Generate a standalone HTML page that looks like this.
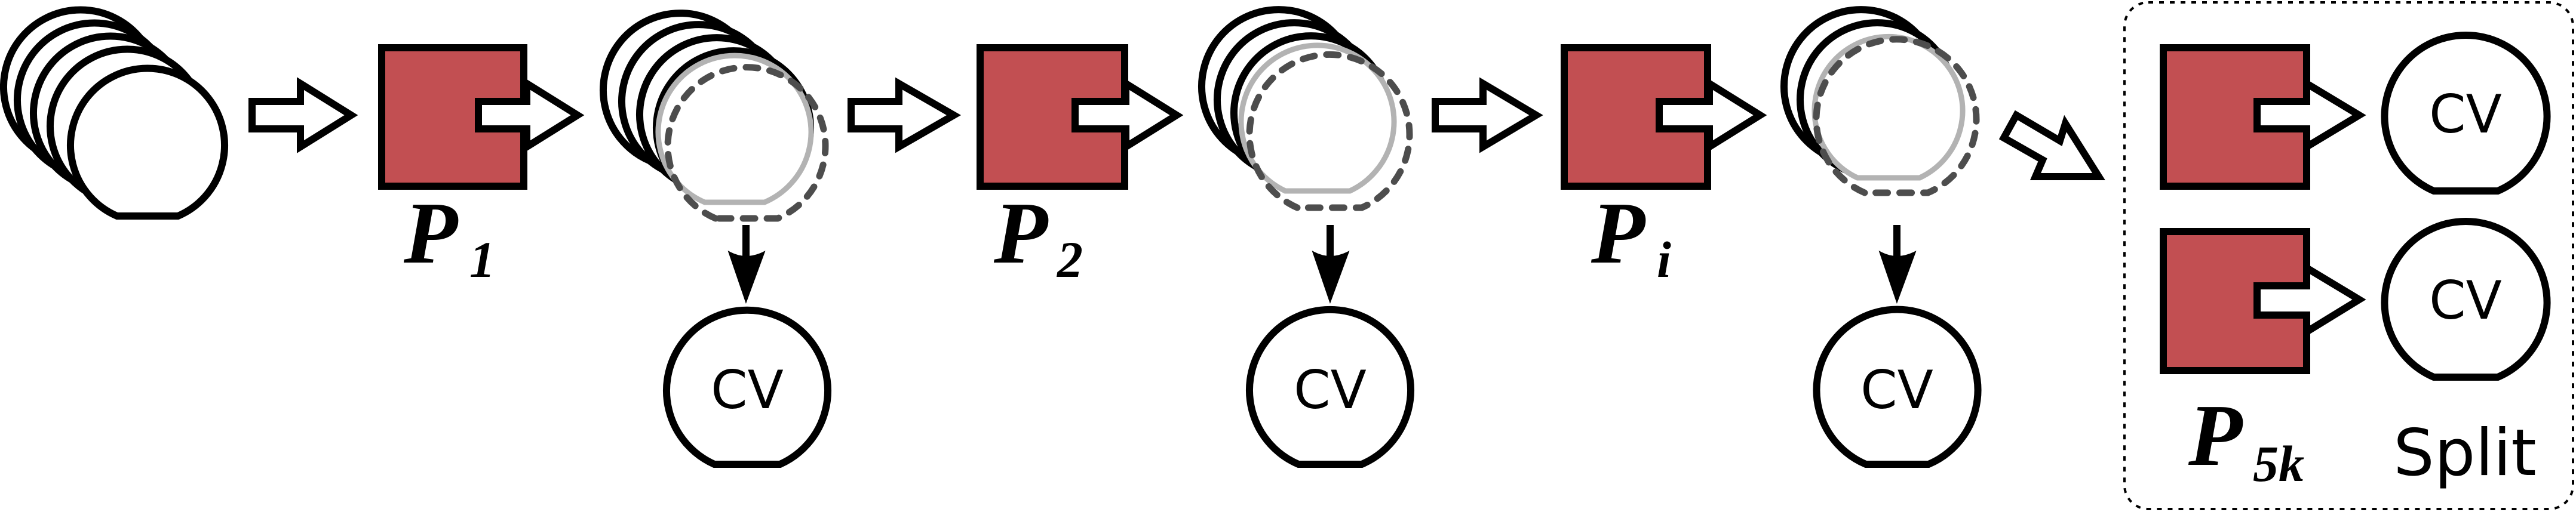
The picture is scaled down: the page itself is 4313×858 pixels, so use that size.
<!DOCTYPE html>
<html><head><meta charset="utf-8"><style>
html,body{margin:0;padding:0;background:#fff;}
svg{display:block;}
.k{fill:#fff;stroke:#000;stroke-width:12;stroke-linejoin:miter;}
.g{fill:#fff;stroke:#b3b3b3;stroke-width:9;}
.d{fill:none;stroke:#4d4d4d;stroke-width:11;stroke-dasharray:20 20;stroke-linecap:round;}
.box{fill:#c24f52;stroke:#000;stroke-width:12;}
.cv{font-family:"DejaVu Sans","Liberation Sans",sans-serif;font-size:88px;text-anchor:middle;}
.P{font-family:"Liberation Serif",serif;font-style:italic;font-weight:bold;font-size:148px;}
.s{font-family:"Liberation Serif",serif;font-style:italic;font-weight:bold;font-size:86px;}
</style></head><body>
<svg width="4313" height="858" viewBox="0 0 4313 858" xmlns="http://www.w3.org/2000/svg">
<g>
<path class="k" d="M84,264 A129,129 0 1 1 186,264 Z"/>
<path class="k" d="M107,286 A129,129 0 1 1 209,286 Z"/>
<path class="k" d="M134,308 A129,129 0 1 1 236,308 Z"/>
<path class="k" d="M162,330 A129,129 0 1 1 264,330 Z"/>
<path class="k" d="M196,362 A129,129 0 1 1 298,362 Z"/>
</g>
<polygon class="k" points="422,170 503,170 503,140 588,193 503,246 503,216 422,216"/>
<rect class="box" x="639" y="80" width="238" height="232"/>
<polygon class="k" points="801,170 882,170 882,140 967,193 882,246 882,216 801,216"/>
<text class="P" x="676" y="440">P</text><text class="s" x="786" y="464">1</text>

<path class="k" d="M1089,270 A129,129 0 1 1 1189,270 Z"/>
<path class="k" d="M1120,289 A129,129 0 1 1 1220,289 Z"/>
<path class="k" d="M1150,311 A129,129 0 1 1 1250,311 Z"/>
<path class="k" d="M1178,333 A129,129 0 1 1 1278,333 Z"/>
<path class="g" d="M1180,339 A128,128 0 1 1 1280,339 Z"/>
<path class="d" d="M1198,366 A132,132 0 1 1 1302,366 Z"/>
<line x1="1249" y1="377" x2="1249" y2="440" stroke="#000" stroke-width="12"/>
<path d="M1222,424 Q1249,438 1278,424 L1249,503 Z" fill="#000" stroke="#000" stroke-width="4"/>
<path class="k" d="M1196,778 A135,135 0 1 1 1306,778 Z"/>
<text class="cv" x="1251" y="684">CV</text>

<polygon class="k" points="1425,170 1505,170 1505,140 1597,193 1505,246 1505,216 1425,216"/>
<rect class="box" x="1641" y="80" width="242" height="232"/>
<polygon class="k" points="1800,170 1885,170 1885,140 1970,193 1885,246 1885,216 1800,216"/>
<text class="P" x="1664" y="440">P</text><text class="s" x="1770" y="464">2</text>

<path class="k" d="M2091,264 A129,129 0 1 1 2191,264 Z"/>
<path class="k" d="M2117,286 A129,129 0 1 1 2217,286 Z"/>
<path class="k" d="M2145,308 A129,129 0 1 1 2245,308 Z"/>
<path class="g" d="M2152,320 A128,128 0 1 1 2260,320 Z"/>
<path class="d" d="M2172,348 A134,134 0 1 1 2280,348 Z"/>
<line x1="2227" y1="377" x2="2227" y2="440" stroke="#000" stroke-width="12"/>
<path d="M2200,424 Q2227,438 2256,424 L2227,503 Z" fill="#000" stroke="#000" stroke-width="4"/>
<path class="k" d="M2174,778 A135,135 0 1 1 2280,778 Z"/>
<text class="cv" x="2227" y="684">CV</text>

<polygon class="k" points="2403,170 2483,170 2483,140 2572,193 2483,246 2483,216 2403,216"/>
<rect class="box" x="2619" y="80" width="240" height="232"/>
<polygon class="k" points="2778,170 2862,170 2862,140 2947,193 2862,246 2862,216 2778,216"/>
<text class="P" x="2664" y="440">P</text><text class="s" x="2774" y="464">i</text>

<path class="k" d="M3066,264 A129,129 0 1 1 3166,264 Z"/>
<path class="k" d="M3093,286 A129,129 0 1 1 3193,286 Z"/>
<path class="g" d="M3110,298 A124,124 0 1 1 3214,298 Z"/>
<path class="d" d="M3122,323 A134,134 0 1 1 3228,323 Z"/>
<line x1="3176" y1="377" x2="3176" y2="440" stroke="#000" stroke-width="12"/>
<path d="M3149,424 Q3176,438 3205,424 L3176,503 Z" fill="#000" stroke="#000" stroke-width="4"/>
<path class="k" d="M3124,778 A135,135 0 1 1 3229,778 Z"/>
<text class="cv" x="3176" y="684">CV</text>

<polygon class="k" points="3376,193 3449,236 3458,207 3514,296 3408,296 3420,268 3355,231"/>

<rect x="3557" y="4" width="751" height="849" rx="40" ry="40" fill="none" stroke="#000" stroke-width="4" stroke-dasharray="8 10"/>
<rect class="box" x="3622" y="80" width="240" height="232"/>
<polygon class="k" points="3779,170 3862,170 3862,140 3950,193 3862,246 3862,216 3779,216"/>
<rect class="box" x="3622" y="388" width="240" height="233"/>
<polygon class="k" points="3779,479 3862,479 3862,449 3950,502 3862,556 3862,528 3779,528"/>
<path class="k" d="M4075,320 A136,136 0 1 1 4182,320 Z"/>
<text class="cv" x="4128" y="222">CV</text>
<path class="k" d="M4075,632 A136,136 0 1 1 4182,632 Z"/>
<text class="cv" x="4128" y="534">CV</text>
<text class="P" x="3664" y="779">P</text><text class="s" x="3772" y="806">5k</text>
<text x="4127" y="796" font-family="DejaVu Sans, Liberation Sans, sans-serif" font-size="108" text-anchor="middle">Split</text>
</svg>
</body></html>
